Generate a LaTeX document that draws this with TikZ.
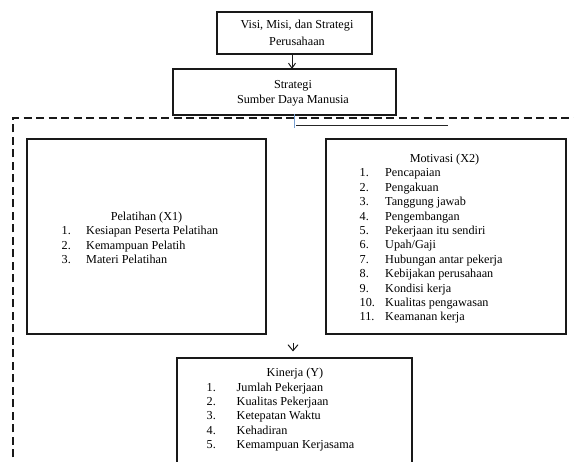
\documentclass[tikz,border=0pt]{standalone}
\usepackage{fontspec}
\setmainfont{Liberation Serif}
\usetikzlibrary{arrows.meta,calc}
\begin{document}
\begin{tikzpicture}[x=1pt,y=-1pt,
  box/.style={draw=black!90, line width=1.1pt, inner sep=0pt, outer sep=0pt, anchor=north west},
  txt/.style={inner sep=0pt, anchor=base, font=\fontsize{12.2}{14.4}\selectfont},
  itm/.style={inner sep=0pt, anchor=base west, font=\fontsize{12.2}{14.4}\selectfont},
  dashbox/.style={draw=black!90, line width=1.1pt, dash pattern=on 8pt off 4.5pt},
  arrA/.style={draw=black!90, line width=1pt, -{Straight Barb[length=5pt,width=7pt]}},
  arrB/.style={draw=black!90, line width=1pt, -{Straight Barb[length=6pt,width=10pt]}}]
\clip (0,0) rectangle (574,462);
\fill[white] (0,0) rectangle (574,462);

% top boxes
\node[box, minimum width=155pt, minimum height=42pt] (b1) at (217,12) {};
\node[txt] (b1a) at (297,29) {Visi, Misi, dan Strategi};
\node[txt] (b1b) at (297,45.5) {Perusahaan};

\node[box, minimum width=223pt, minimum height=46pt] (b2) at (173,69) {};
\node[txt] (b2a) at (293,89) {Strategi};
\node[txt] (b2b) at (293,104) {Sumber Daya Manusia};

\draw[arrA] ([xshift=-2.5pt]b1.south) -- ([xshift=-2.5pt]b1.south |- b2.north);

% dashed frame
\coordinate (dA) at (13,470);
\coordinate (dB) at (13,118);
\coordinate (dC) at (580,118);
\draw[dashbox] (dA) -- (dB) -- (dC);

% small marks under the strategy box
\coordinate (ln1) at (296,126);
\coordinate (ln2) at (448,126);
\draw[black!85, line width=1pt] (ln1) -- (ln2);
\coordinate (tk1) at (294,114);
\coordinate (tk2) at (294,128);
\draw[color={rgb,255:red,120;green,160;blue,210}, line width=0.8pt] (tk1) -- (tk2);

% Pelatihan
\node[box, minimum width=239pt, minimum height=195pt] (pel) at (27,139) {};
\node[txt] (pelt) at (146.5,220.5) {Pelatihan (X1)};
\foreach \t [count=\i] in {Kesiapan Peserta Pelatihan, Kemampuan Pelatih, Materi Pelatihan}{
  \node[itm] (pn\i) at (61.5,{220.5+14.4*\i}) {\i.};
  \node[itm] (pi\i) at (86,{220.5+14.4*\i}) {\t};
}

% Motivasi
\node[box, minimum width=240pt, minimum height=195pt] (mot) at (326,139) {};
\node[txt] (mott) at (444.5,162.5) {Motivasi (X2)};
\foreach \t [count=\i] in {Pencapaian, Pengakuan, Tanggung jawab, Pengembangan, Pekerjaan itu sendiri, Upah/Gaji, Hubungan antar pekerja, Kebijakan perusahaan, Kondisi kerja, Kualitas pengawasan, Keamanan kerja}{
  \node[itm] (mn\i) at (359.5,{162.5+14.4*\i}) {\i.};
  \node[itm] (mi\i) at (385,{162.5+14.4*\i}) {\t};
}

% Kinerja
\node[box, minimum width=235pt, minimum height=130pt] (kin) at (177,358) {};
\node[txt] (kint) at (295,377) {Kinerja (Y)};
\foreach \t [count=\i] in {Jumlah Pekerjaan, Kualitas Pekerjaan, Ketepatan Waktu, Kehadiran, Kemampuan Kerjasama}{
  \node[itm] (kn\i) at (206.5,{377+14.3*\i}) {\i.};
  \node[itm] (ki\i) at (236.5,{377+14.3*\i}) {\t};
}

\coordinate (a2s) at (293,343);
\draw[arrB, shorten >=6.5pt] (a2s) -- (a2s |- kin.north);
\end{tikzpicture}
\end{document}
